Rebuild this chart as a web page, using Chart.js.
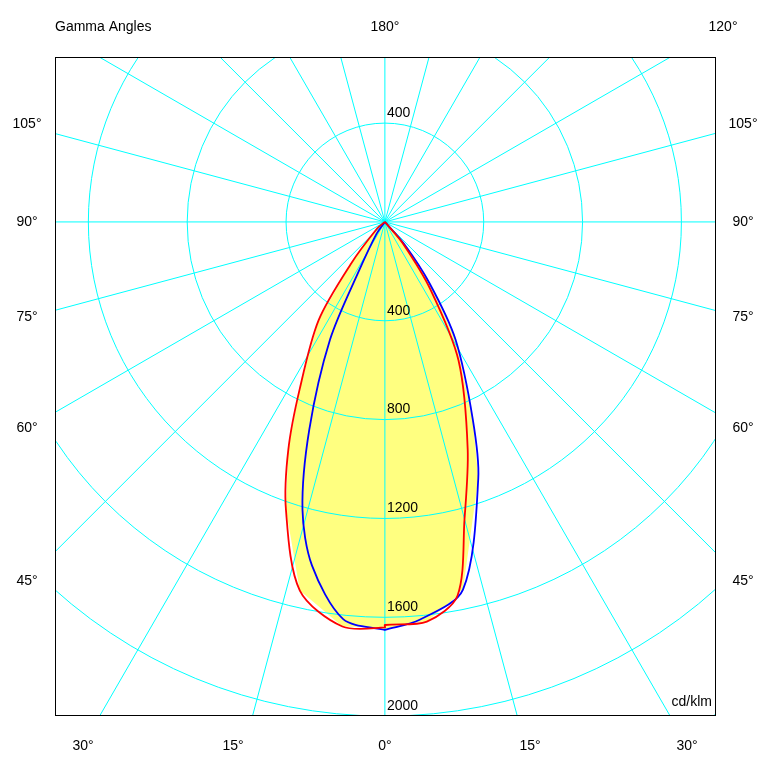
<!DOCTYPE html>
<html>
<head>
<meta charset="utf-8">
<script src="https://cdn.jsdelivr.net/npm/chart.js@4"></script>
<style>
body { margin: 0; background: #fff; }
#wrap { width: 773px; height: 774px; }
</style>
</head>
<body>
<div id="wrap"><canvas id="polar"></canvas></div>
<script>
// luminous intensity (cd/klm) against gamma angle, per half plane
var redLeftGamma = [0, 6, 13, 19, 23, 27, 34, 39, 50, 90];
var redLeftCd = [1640, 1645, 1530, 1230, 1000, 760, 480, 220, 40, 0];
var redRightGamma = [0, 6, 11, 15, 20, 28, 34, 40, 90];
var redRightCd = [1630, 1625, 1540, 1245, 980, 635, 330, 110, 0];
var blueLeftGamma = [0, 6, 12, 16, 20, 25, 28, 35, 90];
var blueLeftCd = [1650, 1615, 1420, 1210, 895, 525, 220, 60, 0];
var blueRightGamma = [0, 5, 12, 20, 24, 31, 36, 41, 90];
var blueRightCd = [1650, 1615, 1520, 1105, 875, 555, 310, 120, 0];

var ringValues = [400, 800, 1200, 1600, 2000, 2400, 2800, 3200];
var ringLabels = ['400', '800', '1200', '1600', '2000'];
var leftAngleLabels = [['105°', 124], ['90°', 222], ['75°', 317], ['60°', 428], ['45°', 581]];
var bottomAngleLabels = [['30°', 83], ['15°', 233], ['0°', 385], ['15°', 530], ['30°', 687]];

function toPoints(gLeft, cLeft, gRight, cRight) {
    var pts = [];
    for (var i = gLeft.length - 1; i >= 0; i--) {
        var a = gLeft[i] * Math.PI / 180;
        pts.push({x: -cLeft[i] * Math.sin(a), y: -cLeft[i] * Math.cos(a)});
    }
    for (var j = 0; j < gRight.length; j++) {
        var b = gRight[j] * Math.PI / 180;
        pts.push({x: cRight[j] * Math.sin(b), y: -cRight[j] * Math.cos(b)});
    }
    return pts;
}

var redPts = toPoints(redLeftGamma, redLeftCd, redRightGamma, redRightCd);
var bluePts = toPoints(blueLeftGamma, blueLeftCd, blueRightGamma, blueRightCd);

var gridPlugin = {
    id: 'polarGrid',
    beforeDatasetsDraw: function(chart) {
        var ctx = chart.ctx, xs = chart.scales.x, ys = chart.scales.y, area = chart.chartArea;
        var cx = xs.getPixelForValue(0), cy = ys.getPixelForValue(0);
        var unit = xs.getPixelForValue(400) - cx;
        ctx.save();
        ctx.beginPath();
        ctx.rect(area.left, area.top, area.right - area.left, area.bottom - area.top);
        ctx.clip();
        // yellow fill of both curves
        ctx.fillStyle = '#ffff80';
        chart.data.datasets.forEach(function(ds, k) {
            var meta = chart.getDatasetMeta(k);
            ctx.beginPath();
            meta.data.forEach(function(p, i) { if (i == 0) ctx.moveTo(p.x, p.y); else ctx.lineTo(p.x, p.y); });
            ctx.closePath();
            ctx.fill();
        });
        ctx.strokeStyle = '#00ffff';
        ctx.lineWidth = 1;
        ringValues.forEach(function(v) {
            ctx.beginPath();
            ctx.arc(cx, cy, unit * v / 400, 0, Math.PI * 2);
            ctx.stroke();
        });
        for (var g = 0; g < 360; g += 15) {
            var a = g * Math.PI / 180;
            ctx.beginPath();
            ctx.moveTo(cx, cy);
            ctx.lineTo(cx + 700 * Math.sin(a), cy + 700 * Math.cos(a));
            ctx.strokeStyle = '#00ffff';
            ctx.stroke();
        }
        ctx.restore();
        // frame and texts
        ctx.save();
        ctx.strokeStyle = '#000';
        ctx.strokeRect(area.left + 0.5, area.top + 0.5, area.right - area.left - 1, area.bottom - area.top - 1);
        ctx.fillStyle = '#000';
        ctx.font = '14px "Liberation Sans", Arial, sans-serif';
        ctx.textBaseline = 'middle';
        ctx.textAlign = 'left';
        ctx.fillText('400', cx + 2, cy - unit - 10);
        ringLabels.forEach(function(t, i) {
            ctx.fillText(t, cx + 2, cy + unit * (i + 1) - 10);
        });
        ctx.fillText('Gamma Angles', 55, 27);
        ctx.textAlign = 'right';
        ctx.fillText('cd/klm', area.right - 4, 702);
        ctx.textAlign = 'center';
        ctx.fillText('180°', cx, 27);
        ctx.fillText('120°', 723, 27);
        leftAngleLabels.forEach(function(l) {
            ctx.fillText(l[0], 27, l[1]);
            ctx.fillText(l[0], 743, l[1]);
        });
        bottomAngleLabels.forEach(function(l) {
            ctx.fillText(l[0], l[1], 746);
        });
        ctx.restore();
    }
};

new Chart(document.getElementById('polar'), {
    type: 'scatter',
    data: {
        datasets: [
            {data: redPts, showLine: true, borderColor: '#ff0000', borderWidth: 1.8, pointRadius: 0, tension: 0.3, fill: false},
            {data: bluePts, showLine: true, borderColor: '#0000ff', borderWidth: 1.8, pointRadius: 0, tension: 0.3, fill: false}
        ]
    },
    options: {
        responsive: true,
        maintainAspectRatio: false,
        animation: false,
        layout: {padding: {left: 55, top: 57, right: 57, bottom: 58}},
        plugins: {legend: {display: false}, tooltip: {enabled: false}},
        scales: {
            x: {type: 'linear', min: -1335, max: 1340, display: false},
            y: {type: 'linear', min: -1998, max: 667, display: false}
        }
    },
    plugins: [gridPlugin]
});
</script>
</body>
</html>
